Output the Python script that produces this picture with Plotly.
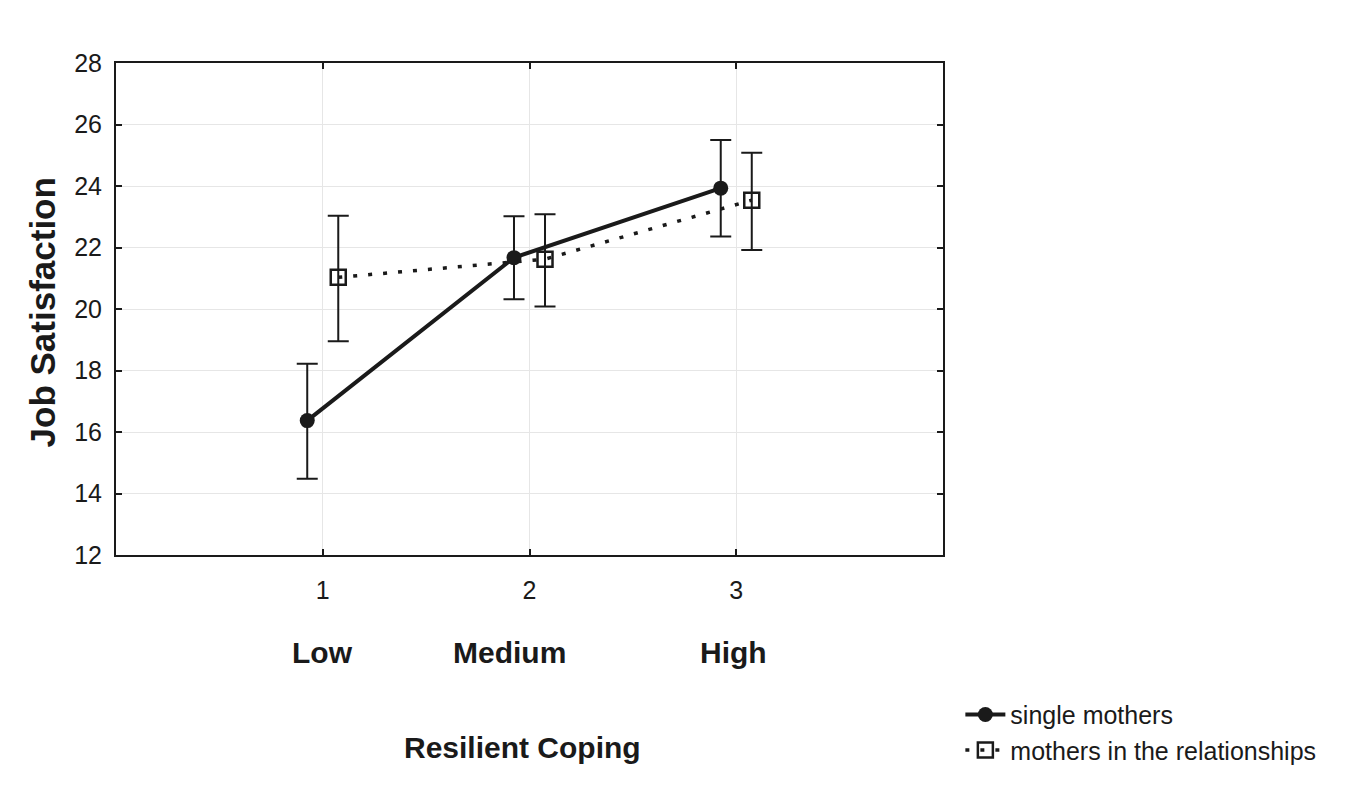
import plotly.graph_objects as go

# valores
niveles = [1, 2, 3]
etiquetas = ['Low', 'Medium', 'High']

single_media = [16.37, 21.67, 23.93]
single_sup = [18.22, 23.02, 25.50]
single_inf = [14.48, 20.32, 22.36]

pareja_media = [21.03, 21.62, 23.54]
pareja_sup = [23.03, 23.08, 25.08]
pareja_inf = [18.95, 20.08, 21.92]

desplaz = 0.075
etiquetas_xshift = [0, -20, -3]
FUENTE = 'Liberation Sans Narrow, Arial Narrow, Liberation Sans, Arial'
NEGRO = '#1a1a1a'

fig = go.Figure()

fig.add_trace(go.Scatter(
    x=[n - desplaz for n in niveles],
    y=single_media,
    mode='lines+markers',
    name='single mothers',
    line=dict(color=NEGRO, width=4),
    marker=dict(symbol='circle', size=15, color=NEGRO),
    error_y=dict(
        type='data', symmetric=False,
        array=[s - m for s, m in zip(single_sup, single_media)],
        arrayminus=[m - i for m, i in zip(single_media, single_inf)],
        color=NEGRO, thickness=2, width=10.5
    )
))

fig.add_trace(go.Scatter(
    x=[n + desplaz for n in niveles],
    y=pareja_media,
    mode='lines+markers',
    name='mothers in the relationships',
    line=dict(color=NEGRO, width=3.5, dash='4px,11px'),
    marker=dict(symbol='square-open', size=15, color=NEGRO, line=dict(width=2.5)),
    error_y=dict(
        type='data', symmetric=False,
        array=[s - m for s, m in zip(pareja_sup, pareja_media)],
        arrayminus=[m - i for m, i in zip(pareja_media, pareja_inf)],
        color=NEGRO, thickness=2, width=10.5
    )
))

# etiquetas Low / Medium / High debajo de los ticks
for n, et, dx in zip(niveles, etiquetas, etiquetas_xshift):
    fig.add_annotation(
        x=n, y=0, xref='x', yref='paper', yshift=-97, xshift=dx,
        yanchor='middle', text=f'<b>{et}</b>', showarrow=False,
        font=dict(family=FUENTE, size=30, color=NEGRO)
    )

# titulos de los ejes
fig.add_annotation(
    x=0.492, y=0, xref='paper', yref='paper', yshift=-192, yanchor='middle',
    text='<b>Resilient Coping</b>', showarrow=False,
    font=dict(family=FUENTE, size=30, color=NEGRO)
)
fig.add_annotation(
    x=0, y=0.493, xref='paper', yref='paper', xshift=-74, xanchor='center',
    textangle=-90, text='<b>Job Satisfaction</b>', showarrow=False,
    font=dict(family='Liberation Sans, Arial', size=35, color=NEGRO)
)

fig.update_layout(
    width=1352, height=797,
    margin=dict(l=108, r=417, t=55, b=250),
    plot_bgcolor='white', paper_bgcolor='white',
    showlegend=True,
    legend=dict(
        x=1.021, y=-0.278, xanchor='left', yanchor='top',
        font=dict(family=FUENTE, size=25, color=NEGRO),
        tracegroupgap=0, itemwidth=40, bgcolor='rgba(0,0,0,0)'
    ),
    xaxis=dict(
        range=[0, 4], tickvals=niveles, ticktext=['1', '2', '3'],
        showgrid=True, gridcolor='#e6e6e6', gridwidth=1,
        zeroline=False,
        showline=True, linecolor=NEGRO, linewidth=2, mirror='ticks',
        ticks='inside', ticklen=6, tickcolor=NEGRO, tickwidth=2,
        ticklabelstandoff=12,
        tickfont=dict(family=FUENTE, size=25, color=NEGRO),
    ),
    yaxis=dict(
        range=[12, 28], tickvals=list(range(12, 29, 2)),
        showgrid=True, gridcolor='#e6e6e6', gridwidth=1,
        zeroline=False,
        showline=True, linecolor=NEGRO, linewidth=2, mirror='ticks',
        ticks='inside', ticklen=6, tickcolor=NEGRO, tickwidth=2,
        ticklabelstandoff=7,
        tickfont=dict(family=FUENTE, size=25, color=NEGRO),
    ),
)

fig.write_html("out.html")
